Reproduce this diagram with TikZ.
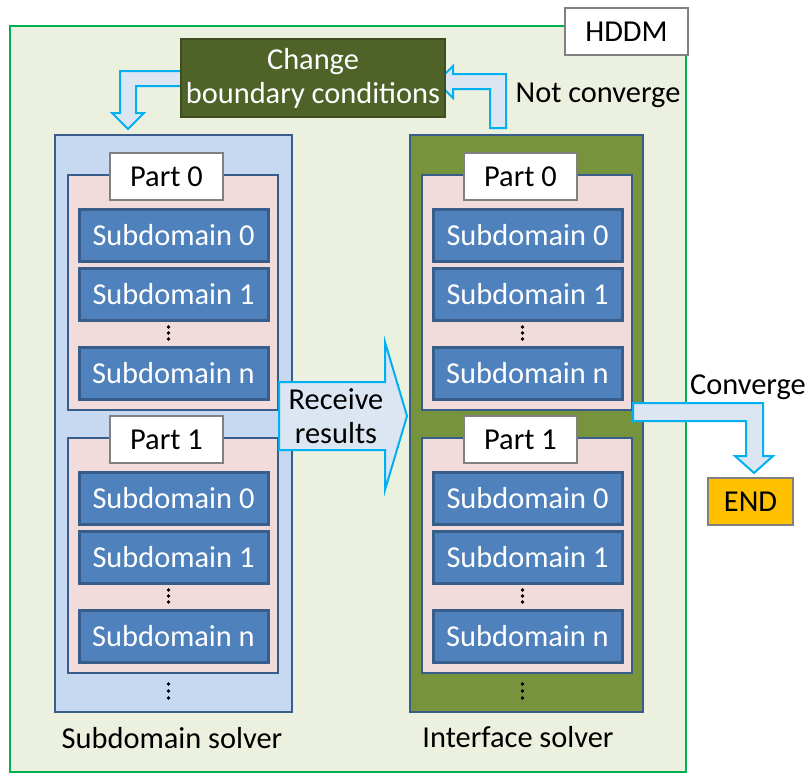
\documentclass[tikz,border=0pt]{standalone}
\usepackage{fontspec}
\setmainfont{Carlito}
\usetikzlibrary{positioning,calc}

\definecolor{framegreen}{HTML}{00B050}
\definecolor{framefill}{HTML}{EBF1DE}
\definecolor{chgfill}{HTML}{4F6228}
\definecolor{colLfill}{HTML}{C6D9F1}
\definecolor{colRfill}{HTML}{77933C}
\definecolor{boxline}{HTML}{385D8A}
\definecolor{partfill}{HTML}{F2DCDB}
\definecolor{subfill}{HTML}{4F81BD}
\definecolor{arrline}{HTML}{00B0F0}
\definecolor{arrfill}{HTML}{DCE6F2}
\definecolor{endfill}{HTML}{FFC000}

\begin{document}
\begin{tikzpicture}[x=0.5pt,y=-0.5pt,inner sep=0pt,
  font=\fontsize{15.2}{17}\selectfont,
  column/.style={draw=boxline,line width=0.8pt,minimum height=288.5pt},
  partbox/.style={draw=boxline,fill=partfill,line width=0.8pt,minimum width=105pt,minimum height=117.5pt},
  subbox/.style={draw=boxline,fill=subfill,line width=1.5pt,minimum width=94.5pt,minimum height=26pt,text=white},
  tagbox/.style={draw=gray,fill=white,line width=0.6pt,minimum width=56.5pt,minimum height=23.5pt},
  blockarrow/.style={draw=arrline,fill=arrfill,line width=1pt}]

\useasboundingbox (0,0) rectangle (805,776);

% outer frame
\node[draw=framegreen,fill=framefill,line width=1.2pt,minimum width=338pt,minimum height=373pt] (hddm) at (348,399) {};
\node[tagbox,minimum width=61.5pt] (hddmtag) at (626.5,31.5) {HDDM};

% bent arrows (behind the change box)
\draw[blockarrow] (186,71) -- (120,71) -- (120,113) -- (112,113) -- (128,129) -- (144,113) -- (136,113) -- (136,86) -- (186,86) -- cycle;
\draw[blockarrow] (506,128) -- (506,74) -- (453,74) -- (453,66) -- (437,82) -- (453,98) -- (453,89) -- (490,89) -- (490,128) -- cycle;

\node[draw=chgfill!80!black,fill=chgfill,line width=0.6pt,minimum width=132pt,minimum height=39pt,text=white,align=center] (chg) at (313,78) {Change\\boundary conditions};
\node (notconv) at (598,95) {Not converge};

% solvers
\node[column,fill=colLfill,minimum width=118.5pt] (colL) at (173.5,423.5) {};
\node[column,fill=colRfill,minimum width=116.5pt] (colR) at (526.5,423.5) {};

\foreach \c/\x in {L/173.5,R/527.5}{
  \foreach \p/\dy in {0/0,1/263}{
    \node[partbox] (\c\p) at (\x-0.5,292.5+\dy) {};
    \node[tagbox] (\c\p tag) at (\x-7,176.5+\dy) {Part \p};
    \node[subbox] (\c\p s0) at (\x,235.5+\dy) {Subdomain 0};
    \node[subbox] (\c\p s1) at (\x,294+\dy) {Subdomain 1};
    \node[subbox] (\c\p sn) at (\x,373.5+\dy) {Subdomain n};
    \foreach \d in {327,333,339}
      \fill (\x-5,\d+\dy) circle (0.9pt);
  }
  \foreach \d in {684,691,698}
    \fill (\x-5,\d) circle (0.9pt);
}

\node (solvL) at (172,738) {Subdomain solver};
\node (solvR) at (518,737) {Interface solver};

% receive results
\draw[blockarrow] (279,382) -- (385,382) -- (385,342) -- (407,416) -- (385,490) -- (385,450) -- (279,450) -- cycle;
\node[align=center] (recv) at (336,416) {Receive\\results};

% converge
\draw[blockarrow] (633,403) -- (763,403) -- (763,456) -- (773,456) -- (754,473) -- (735,456) -- (746,456) -- (746,421) -- (633,421) -- cycle;
\node (conv) at (748,387) {Converge};
\node[draw=gray,fill=endfill,line width=0.6pt,minimum width=42.5pt,minimum height=23.5pt] (end) at (750.5,501.5) {END};
\end{tikzpicture}
\end{document}
